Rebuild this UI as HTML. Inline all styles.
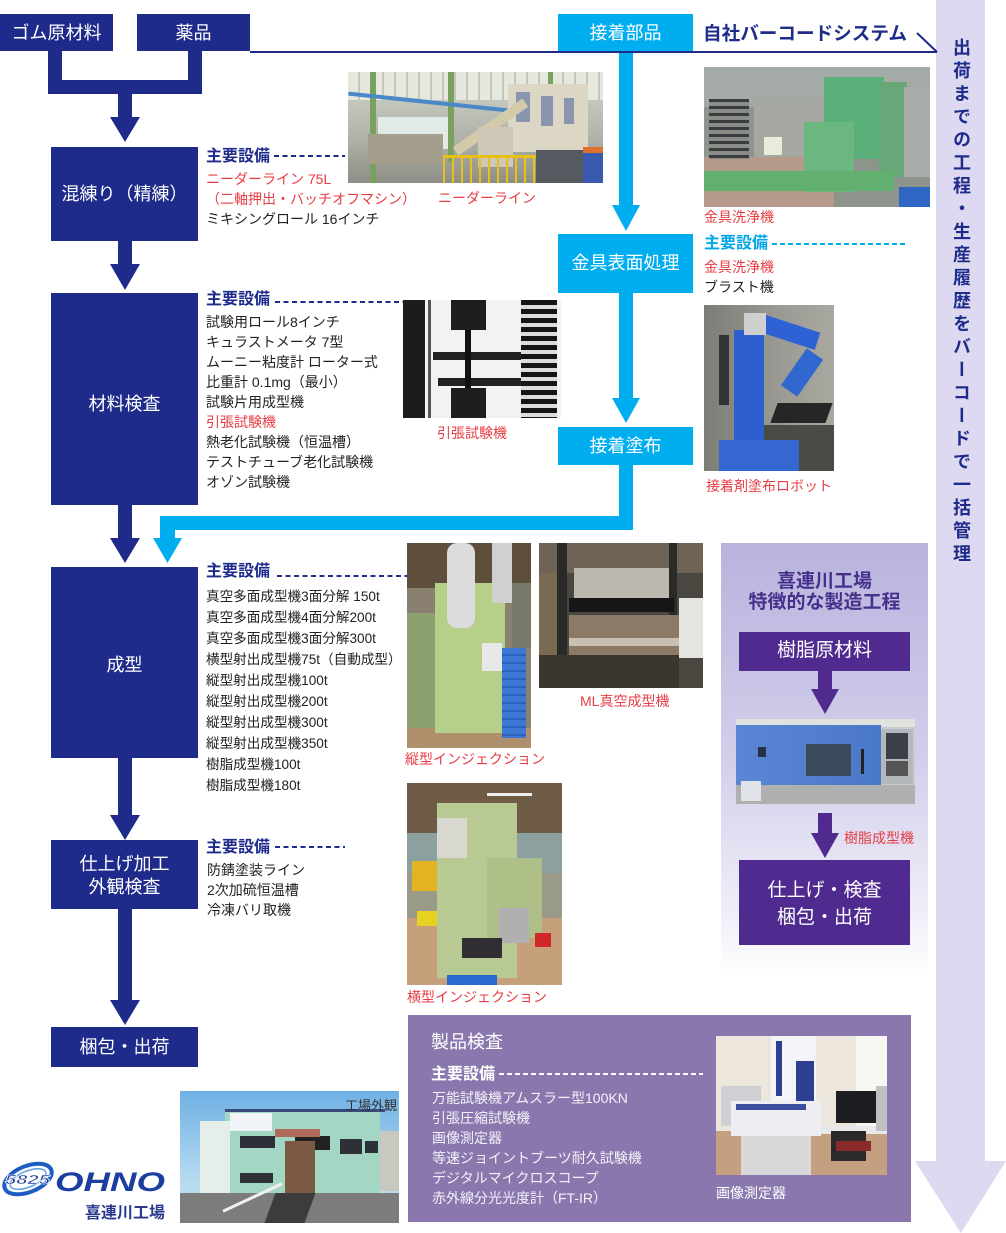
<!DOCTYPE html>
<html><head><meta charset="utf-8">
<style>
*{margin:0;padding:0;box-sizing:border-box}
body{width:1006px;height:1233px;position:relative;background:#fff;overflow:hidden;font-family:"Liberation Sans","Noto Sans CJK JP",sans-serif;}
.lbl{position:absolute;color:#fff;font-size:18px;text-align:center;line-height:24px;white-space:nowrap}
.h{position:absolute;font-size:16px;font-weight:bold;color:#1e2b8b;line-height:20px;white-space:nowrap}
.list{position:absolute;font-size:14px;line-height:20px;color:#222;white-space:nowrap}
.red{color:#e73d44}
.cap{position:absolute;font-size:14px;color:#e73d44;line-height:18px;white-space:nowrap}
.dash{position:absolute;height:2px;background:repeating-linear-gradient(to right,#1e2b8b 0 5px,transparent 5px 8.5px)}
.ph{position:absolute;overflow:hidden}
.ph div{position:absolute}
svg{position:absolute;left:0;top:0}
</style></head>
<body>
<svg width="1006" height="1233" viewBox="0 0 1006 1233">
<defs>
<linearGradient id="pg" x1="0" y1="0" x2="0" y2="1">
<stop offset="0" stop-color="#b8b3dd"/>
<stop offset="0.5" stop-color="#d2cfeb"/>
<stop offset="0.85" stop-color="#efeef8"/>
<stop offset="1" stop-color="#ffffff"/>
</linearGradient>
</defs>
<!-- right band -->
<rect x="936" y="0" width="49" height="1162" fill="#dcd9f0"/>
<polygon points="915,1161 1006,1161 961,1233" fill="#dcd9f0"/>
<!-- navy -->
<g fill="#1e2b8b">
<rect x="0" y="14" width="113" height="37"/>
<rect x="137" y="14" width="113" height="37"/>
<rect x="250" y="51" width="687" height="2"/>
<rect x="48" y="51" width="14" height="43"/>
<rect x="188" y="51" width="14" height="43"/>
<rect x="48" y="80" width="154" height="14"/>
<rect x="118" y="93" width="14" height="25"/>
<polygon points="110,117 140,117 125,142"/>
<rect x="51" y="147" width="147" height="94"/>
<rect x="118" y="240" width="14" height="25"/>
<polygon points="110,264 140,264 125,290"/>
<rect x="51" y="293" width="147" height="212"/>
<rect x="118" y="504" width="14" height="35"/>
<polygon points="110,538 140,538 125,563"/>
<rect x="51" y="567" width="147" height="191"/>
<rect x="118" y="757" width="14" height="59"/>
<polygon points="110,815 140,815 125,840"/>
<rect x="51" y="840" width="147" height="69"/>
<rect x="118" y="908" width="14" height="93"/>
<polygon points="110,1000 140,1000 125,1025"/>
<rect x="51" y="1027" width="147" height="40"/>
</g>
<line x1="917" y1="33" x2="937" y2="52" stroke="#1e2b8b" stroke-width="2"/>
<!-- cyan -->
<g fill="#00aeef">
<rect x="558" y="14" width="135" height="37"/>
<rect x="619" y="53" width="14" height="153"/>
<polygon points="612,205 640,205 626,231"/>
<rect x="558" y="234" width="135" height="59"/>
<rect x="619" y="292" width="14" height="107"/>
<polygon points="612,398 640,398 626,423"/>
<rect x="558" y="427" width="135" height="38"/>
<rect x="619" y="464" width="14" height="66"/>
<rect x="160" y="516" width="473" height="14"/>
<rect x="160" y="516" width="15" height="23"/>
<polygon points="153,538 182,538 167.5,563"/>
</g>
<!-- purple panel -->
<rect x="721" y="543" width="207" height="434" fill="url(#pg)"/>
<g fill="#4f2a8f">
<rect x="739" y="632" width="171" height="39"/>
<rect x="818" y="670" width="14" height="20"/>
<polygon points="811,689 839,689 825,714"/>
<rect x="818" y="813" width="14" height="21"/>
<polygon points="811,833 839,833 825,858"/>
<rect x="739" y="860" width="171" height="85"/>
</g>
<rect x="408" y="1015" width="503" height="207" fill="#8a77ae"/>
<!-- OHNO logo -->
<ellipse cx="28" cy="1179" rx="25" ry="13" transform="rotate(-22 28 1179)" fill="none" stroke="#1d5cc0" stroke-width="4"/>
<ellipse cx="28" cy="1179" rx="19" ry="8" transform="rotate(-22 28 1179)" fill="none" stroke="#5aa0e6" stroke-width="1.5"/>
<text x="5" y="1184" font-family="Liberation Sans, sans-serif" font-size="13" font-weight="bold" font-style="italic" fill="#1a3f9e" stroke="#fff" stroke-width="0.6" textLength="45" lengthAdjust="spacingAndGlyphs">5825</text>
<text x="55" y="1191" font-family="Liberation Sans, sans-serif" font-size="27" font-weight="bold" font-style="italic" fill="#1a3f9e" textLength="110" lengthAdjust="spacingAndGlyphs">OHNO</text>
</svg>

<!-- box labels -->
<div class="lbl" style="left:0;top:21px;width:113px">ゴム原材料</div>
<div class="lbl" style="left:137px;top:21px;width:113px">薬品</div>
<div class="lbl" style="left:558px;top:21px;width:135px">接着部品</div>
<div class="lbl" style="left:51px;top:182px;width:147px">混練り（精練）</div>
<div class="lbl" style="left:51px;top:392px;width:147px">材料検査</div>
<div class="lbl" style="left:51px;top:653px;width:147px">成型</div>
<div class="lbl" style="left:51px;top:853px;width:147px;line-height:23px">仕上げ加工<br>外観検査</div>
<div class="lbl" style="left:51px;top:1035px;width:147px">梱包・出荷</div>
<div class="lbl" style="left:558px;top:251px;width:135px">金具表面処理</div>
<div class="lbl" style="left:558px;top:434px;width:135px">接着塗布</div>

<div class="lbl" style="left:721px;top:571px;width:207px;font-size:19px;line-height:21px;font-weight:bold;color:#47308c">喜連川工場<br>特徴的な製造工程</div>
<div class="lbl" style="left:739px;top:639px;width:171px;font-size:19px">樹脂原材料</div>
<div class="lbl" style="left:739px;top:877px;width:171px;font-size:19px;line-height:27px">仕上げ・検査<br>梱包・出荷</div>

<div class="h" style="left:703px;top:22px;font-size:18.6px;line-height:24px">自社バーコードシステム</div>

<div style="position:absolute;left:951px;top:38px;writing-mode:vertical-rl;text-orientation:upright;font-size:18px;font-weight:bold;color:#1e2b8b;letter-spacing:5px;line-height:20px;white-space:nowrap">出荷までの工程・生産履歴をバーコードで一括管理</div>

<!-- 混練り -->
<div class="h" style="left:206px;top:147px">主要設備</div>
<div class="dash" style="left:274px;top:155px;width:71px"></div>
<div class="list" style="left:206px;top:169px"><span class="red">ニーダーライン 75L</span><br><span class="red">（二軸押出・バッチオフマシン）</span><br>ミキシングロール 16インチ</div>
<div class="cap" style="left:438px;top:189px">ニーダーライン</div>

<!-- 材料検査 -->
<div class="h" style="left:206px;top:290px">主要設備</div>
<div class="dash" style="left:275px;top:301px;width:128px"></div>
<div class="list" style="left:206px;top:312px">試験用ロール8インチ<br>キュラストメータ 7型<br>ムーニー粘度計 ローター式<br>比重計 0.1mg（最小）<br>試験片用成型機<br><span class="red">引張試験機</span><br>熱老化試験機（恒温槽）<br>テストチューブ老化試験機<br>オゾン試験機</div>
<div class="cap" style="left:437px;top:424px">引張試験機</div>

<!-- 金具 -->
<div class="cap" style="left:704px;top:208px">金具洗浄機</div>
<div class="h" style="left:704px;top:234px;color:#00a6e6">主要設備</div>
<div class="dash" style="left:772px;top:243px;width:134px;background:repeating-linear-gradient(to right,#00aeef 0 5px,transparent 5px 8px)"></div>
<div class="list" style="left:704px;top:257px"><span class="red">金具洗浄機</span><br>ブラスト機</div>
<div class="cap" style="left:706px;top:477px">接着剤塗布ロボット</div>

<!-- 成型 -->
<div class="h" style="left:206px;top:562px">主要設備</div>
<div class="dash" style="left:277px;top:575px;width:130px"></div>
<div class="list" style="left:206px;top:586px;line-height:21px;font-size:13.6px">真空多面成型機3面分解 150t<br>真空多面成型機4面分解200t<br>真空多面成型機3面分解300t<br>横型射出成型機75t（自動成型）<br>縦型射出成型機100t<br>縦型射出成型機200t<br>縦型射出成型機300t<br>縦型射出成型機350t<br>樹脂成型機100t<br>樹脂成型機180t</div>
<div class="cap" style="left:405px;top:750px">縦型インジェクション</div>
<div class="cap" style="left:580px;top:692px">ML真空成型機</div>
<div class="cap" style="left:407px;top:988px">横型インジェクション</div>
<div class="cap" style="left:844px;top:829px">樹脂成型機</div>

<!-- 仕上げ -->
<div class="h" style="left:206px;top:838px">主要設備</div>
<div class="dash" style="left:275px;top:846px;width:70px"></div>
<div class="list" style="left:207px;top:860px">防錆塗装ライン<br>2次加硫恒温槽<br>冷凍バリ取機</div>

<!-- 製品検査 -->
<div class="a" style="position:absolute;left:431px;top:1030px;font-size:18px;line-height:24px;color:#fff;white-space:nowrap">製品検査</div>
<div class="h" style="left:431px;top:1065px;color:#fff">主要設備</div>
<div class="dash" style="left:499px;top:1073px;width:204px;background:repeating-linear-gradient(to right,#fff 0 5px,transparent 5px 8px)"></div>
<div class="list" style="left:432px;top:1088px;color:#f4f2f8">万能試験機アムスラー型100KN<br>引張圧縮試験機<br>画像測定器<br>等速ジョイントブーツ耐久試験機<br>デジタルマイクロスコープ<br>赤外線分光光度計（FT-IR）</div>
<div class="cap" style="left:716px;top:1184px;color:#fff">画像測定器</div>

<div class="h" style="left:85px;top:1204px;color:#27388e">喜連川工場</div>

<!-- Photo 1: kneader line -->
<div class="ph" style="left:348px;top:72px;width:255px;height:111px;background:linear-gradient(#d2d6cc,#aeb2a8 60%,#8e8e86)">
<div style="left:0;top:0;width:255px;height:28px;background:repeating-linear-gradient(90deg,#e6e8de 0 10px,#c4c8bc 10px 12px)"></div>
<div style="left:30px;top:45px;width:75px;height:32px;background:#e2eae6"></div>
<div style="left:22px;top:0;width:6px;height:111px;background:#7aa060"></div>
<div style="left:100px;top:0;width:6px;height:90px;background:#7aa060"></div>
<div style="left:200px;top:0;width:5px;height:80px;background:#7aa060"></div>
<div style="left:0;top:28px;width:160px;height:4px;background:#4a88c8;transform:rotate(6deg)"></div>
<div style="left:160px;top:12px;width:80px;height:68px;background:#dcd6c4"></div>
<div style="left:168px;top:20px;width:14px;height:30px;background:#8a96b0"></div>
<div style="left:193px;top:24px;width:12px;height:30px;background:#8a96b0"></div>
<div style="left:216px;top:26px;width:10px;height:26px;background:#8a96b0"></div>
<div style="left:100px;top:50px;width:85px;height:10px;background:#d2caa8;transform:rotate(-35deg)"></div>
<div style="left:130px;top:55px;width:35px;height:40px;background:#cfc8b8"></div>
<div style="left:20px;top:62px;width:75px;height:30px;background:#a49e8c"></div>
<div style="left:95px;top:83px;width:110px;height:28px;border-top:3px solid #e8c018;background:repeating-linear-gradient(90deg,#e8c018 0 2px,transparent 2px 9px)"></div>
<div style="left:188px;top:78px;width:47px;height:33px;background:#555a60"></div>
<div style="left:235px;top:75px;width:20px;height:36px;background:#3a5ab0;border-top:6px solid #e07030"></div>
</div>

<!-- Photo 2: washer -->
<div class="ph" style="left:704px;top:67px;width:226px;height:140px;background:#8e938c">
<div style="left:0;top:0;width:226px;height:40px;background:#a4aaa6"></div>
<div style="left:0;top:90px;width:130px;height:50px;background:#b59a8c"></div>
<div style="left:5px;top:32px;width:40px;height:60px;background:repeating-linear-gradient(#3a3c40 0 3px,#8a8c88 3px 7px)"></div>
<div style="left:50px;top:30px;width:80px;height:60px;background:#a4a8a0"></div>
<div style="left:120px;top:10px;width:60px;height:82px;background:#5ab078"></div>
<div style="left:175px;top:15px;width:28px;height:95px;background:#68a878"></div>
<div style="left:200px;top:20px;width:26px;height:90px;background:#a8aca8"></div>
<div style="left:100px;top:55px;width:50px;height:70px;background:#6ab880"></div>
<div style="left:60px;top:70px;width:18px;height:18px;background:#e8ecd8"></div>
<div style="left:0;top:104px;width:190px;height:20px;background:#62b070"></div>
<div style="left:195px;top:120px;width:31px;height:20px;background:#2f66c4"></div>
</div>

<!-- Photo 3: tensile -->
<div class="ph" style="left:403px;top:300px;width:158px;height:118px;background:#f2f2f2">
<div style="left:0;top:0;width:22px;height:118px;background:#1c1c1c"></div>
<div style="left:25px;top:0;width:3px;height:118px;background:#555"></div>
<div style="left:48px;top:0;width:35px;height:30px;background:#1e1e1e"></div>
<div style="left:30px;top:52px;width:95px;height:8px;background:#222"></div>
<div style="left:35px;top:78px;width:85px;height:8px;background:#222"></div>
<div style="left:62px;top:30px;width:6px;height:60px;background:#111"></div>
<div style="left:48px;top:88px;width:35px;height:30px;background:#1e1e1e"></div>
<div style="left:140px;top:0;width:2px;height:40px;background:#6aa0d0"></div>
<div style="left:118px;top:0;width:36px;height:118px;background:repeating-linear-gradient(#151515 0 5px,#dcdcdc 5px 9px)"></div>
</div>

<!-- Photo 4: robot -->
<div class="ph" style="left:704px;top:305px;width:130px;height:166px;background:linear-gradient(90deg,#7b7d76,#9c9a94 60%,#a8a8a0)">
<div style="left:60px;top:120px;width:70px;height:46px;background:#4c4a44"></div>
<div style="left:15px;top:30px;width:10px;height:70px;background:#333"></div>
<div style="left:30px;top:25px;width:30px;height:120px;background:#2e5fd0"></div>
<div style="left:15px;top:135px;width:80px;height:31px;background:#3468d0"></div>
<div style="left:55px;top:18px;width:60px;height:18px;background:#2e62d4;transform:rotate(18deg)"></div>
<div style="left:88px;top:45px;width:20px;height:45px;background:#3068d0;transform:rotate(35deg)"></div>
<div style="left:40px;top:8px;width:22px;height:22px;background:#cfcfcf"></div>
<div style="left:70px;top:98px;width:55px;height:20px;background:#262626;transform:skewX(-20deg)"></div>
</div>

<!-- Photo 5: vertical injection -->
<div class="ph" style="left:407px;top:543px;width:124px;height:205px;background:#8a8070">
<div style="left:0;top:0;width:124px;height:45px;background:#5e4e3c"></div>
<div style="left:0;top:70px;width:28px;height:120px;background:#8da070"></div>
<div style="left:105px;top:40px;width:19px;height:65px;background:#7a7a6a"></div>
<div style="left:0;top:185px;width:124px;height:20px;background:#b0906c"></div>
<div style="left:28px;top:40px;width:70px;height:150px;background:#b6d08a"></div>
<div style="left:40px;top:0;width:28px;height:85px;background:#dcdcdc;border-radius:10px"></div>
<div style="left:85px;top:0;width:20px;height:60px;background:#d0d0d0"></div>
<div style="left:75px;top:100px;width:20px;height:28px;background:#e8e8e8"></div>
<div style="left:95px;top:105px;width:24px;height:90px;background:repeating-linear-gradient(#3c78d4 0 6px,#2c62b8 6px 8px)"></div>
</div>

<!-- Photo 6: ML vacuum -->
<div class="ph" style="left:539px;top:543px;width:164px;height:145px;background:#4a4640">
<div style="left:0;top:0;width:164px;height:30px;background:#6e6354"></div>
<div style="left:0;top:30px;width:18px;height:115px;background:#7a6a52"></div>
<div style="left:18px;top:0;width:10px;height:145px;background:#2a2a28"></div>
<div style="left:130px;top:0;width:8px;height:145px;background:#2a2a28"></div>
<div style="left:35px;top:25px;width:95px;height:30px;background:#bcb8b0"></div>
<div style="left:30px;top:55px;width:105px;height:14px;background:#161616"></div>
<div style="left:30px;top:72px;width:110px;height:40px;background:#8a7a66"></div>
<div style="left:30px;top:95px;width:110px;height:8px;background:#c8c0b0"></div>
<div style="left:0;top:112px;width:140px;height:33px;background:#3a3630"></div>
<div style="left:140px;top:55px;width:24px;height:60px;background:#e4e4e0"></div>
</div>

<!-- Photo 7: horizontal injection -->
<div class="ph" style="left:407px;top:783px;width:155px;height:202px;background:#9a9a88">
<div style="left:0;top:0;width:155px;height:50px;background:#6e5c46"></div>
<div style="left:80px;top:10px;width:45px;height:3px;background:#eee"></div>
<div style="left:0;top:50px;width:155px;height:40px;background:#8ca0a0"></div>
<div style="left:0;top:135px;width:155px;height:67px;background:#c6a07a"></div>
<div style="left:5px;top:78px;width:25px;height:30px;background:#e2b424"></div>
<div style="left:10px;top:128px;width:25px;height:15px;background:#e8d020"></div>
<div style="left:30px;top:20px;width:80px;height:175px;background:#b8c994"></div>
<div style="left:30px;top:35px;width:30px;height:40px;background:#d8d8d0"></div>
<div style="left:80px;top:75px;width:55px;height:80px;background:#aebf88"></div>
<div style="left:92px;top:125px;width:30px;height:35px;background:#b0b0b0"></div>
<div style="left:55px;top:155px;width:40px;height:20px;background:#2e2e34"></div>
<div style="left:128px;top:150px;width:16px;height:14px;background:#d02828"></div>
<div style="left:40px;top:192px;width:50px;height:10px;background:#2a6ad0"></div>
</div>

<!-- Photo 8: resin molding -->
<div class="ph" style="left:736px;top:719px;width:179px;height:85px;background:#c8ccd0">
<div style="left:0;top:0;width:179px;height:8px;background:#e0e2dc"></div>
<div style="left:0;top:6px;width:145px;height:62px;background:linear-gradient(90deg,#5a86d4,#4a78c8)"></div>
<div style="left:70px;top:25px;width:45px;height:32px;background:#3a4a5a"></div>
<div style="left:125px;top:30px;width:3px;height:25px;background:#222"></div>
<div style="left:22px;top:28px;width:8px;height:10px;background:#2a3040"></div>
<div style="left:145px;top:10px;width:32px;height:55px;background:#b4b8bc"></div>
<div style="left:150px;top:14px;width:22px;height:26px;background:#3a4048"></div>
<div style="left:150px;top:42px;width:22px;height:15px;background:#555"></div>
<div style="left:0;top:66px;width:179px;height:19px;background:#b0b0b0"></div>
<div style="left:5px;top:62px;width:20px;height:20px;background:#e0e4e8"></div>
</div>

<!-- Photo 9: image measuring -->
<div class="ph" style="left:716px;top:1036px;width:171px;height:139px;background:#ece6dc">
<div style="left:140px;top:0;width:31px;height:90px;background:#f6f6f2"></div>
<div style="left:0;top:95px;width:171px;height:44px;background:#c4a080"></div>
<div style="left:95px;top:90px;width:76px;height:8px;background:#e8e8e8"></div>
<div style="left:5px;top:50px;width:40px;height:40px;background:#d0d0d4"></div>
<div style="left:55px;top:0;width:45px;height:65px;background:#f4f4f8"></div>
<div style="left:60px;top:5px;width:6px;height:55px;background:#2c3f90"></div>
<div style="left:80px;top:25px;width:18px;height:40px;background:#2c3f90"></div>
<div style="left:15px;top:65px;width:90px;height:35px;background:#eeeef2"></div>
<div style="left:20px;top:68px;width:70px;height:6px;background:#3a4ea0"></div>
<div style="left:25px;top:100px;width:70px;height:39px;background:#d8d8da"></div>
<div style="left:120px;top:55px;width:40px;height:32px;background:#1e1e22"></div>
<div style="left:160px;top:50px;width:11px;height:45px;background:#c0c0c4"></div>
<div style="left:115px;top:95px;width:35px;height:30px;background:#2a2a2a"></div>
<div style="left:120px;top:105px;width:35px;height:10px;background:#8a2a2a"></div>
</div>

<!-- Photo 10: building -->
<div class="ph" style="left:180px;top:1091px;width:219px;height:132px;background:linear-gradient(#6fb0e4,#b8dcf0 70%)">
<div style="left:200px;top:40px;width:19px;height:60px;background:#c8c8c0"></div>
<div style="left:45px;top:20px;width:155px;height:85px;background:#a4d6c4"></div>
<div style="left:20px;top:30px;width:30px;height:80px;background:#e6eeea"></div>
<div style="left:45px;top:18px;width:160px;height:3px;background:#3a4a7a"></div>
<div style="left:50px;top:22px;width:42px;height:18px;background:#f0f4f8"></div>
<div style="left:60px;top:45px;width:35px;height:12px;background:#2e3038"></div>
<div style="left:115px;top:45px;width:35px;height:14px;background:#222"></div>
<div style="left:160px;top:48px;width:22px;height:15px;background:#2e3038"></div>
<div style="left:185px;top:50px;width:13px;height:12px;background:#2e3038"></div>
<div style="left:60px;top:82px;width:33px;height:10px;background:#2e3038"></div>
<div style="left:95px;top:38px;width:45px;height:8px;background:#b06a5a"></div>
<div style="left:105px;top:50px;width:30px;height:55px;background:#7a5a44"></div>
<div style="left:0;top:102px;width:219px;height:30px;background:#7c7c7c"></div>
<div style="left:90px;top:102px;width:40px;height:30px;background:#3c3c3c;transform:skewX(-20deg)"></div>
<div style="left:40px;top:105px;width:65px;height:3px;background:#f0f0f0;transform:rotate(-25deg)"></div>
</div>
<div class="list" style="left:345px;top:1096px;font-size:13px;color:#333">工場外観</div>

</body></html>
